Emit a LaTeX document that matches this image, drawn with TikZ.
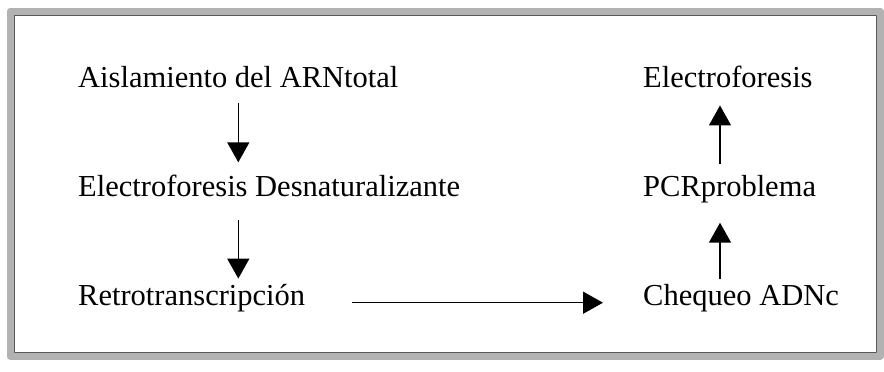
\documentclass[tikz,border=0pt]{standalone}
\usepackage{fontspec}
\setmainfont{Liberation Serif}
\usetikzlibrary{arrows.meta}
\begin{document}
\begin{tikzpicture}[x=1pt, y=-1pt, >={Triangle[width=22pt,length=20pt]},
	font=\fontsize{30.5}{36}\selectfont, line join=round,
	paso/.style={anchor=base west, inner sep=0pt},
	flecha/.style={->, line width=1.5pt}]
	\useasboundingbox (0,0) rectangle (884,372);
	% marco
	\draw[gray!60, line width=7pt] (10,11) rectangle (880,356);
	\draw[black!65, line width=0.8pt] (14,15) rectangle (876,352);
	% columna izquierda
	\node[paso] (ais) at (78,87) {Aislamiento del ARNtotal};
	\node[paso] (eds) at (78,196) {Electroforesis Desnaturalizante};
	\node[paso] (ret) at (78,305) {Retrotranscripción};
	% columna derecha
	\coordinate (colR) at (720,0);
	\node[paso] (elf) at (643,87) {Electroforesis};
	\node[paso] (pcr) at (643,196) {PCRproblema};
	\node[paso] (chq) at (643,305) {Chequeo ADNc};
	% flechas
	\draw[flecha, shorten <=16pt, shorten >=12pt] (ais.south) -- (ais.south |- eds.north);
	\draw[flecha, shorten <=24pt, shorten >=5pt] (ais.south |- eds.south) -- (ais.south |- ret.north);
	\draw[flecha, shorten <=47pt, shorten >=40pt] (ret.mid east) -- (ret.mid east -| chq.west);
	\draw[flecha, shorten <=5pt, shorten >=20pt] (colR |- chq.north) -- (colR |- pcr.south);
	\draw[flecha, shorten <=11pt, shorten >=18pt] (colR |- pcr.north) -- (colR |- elf.south);
\end{tikzpicture}
\end{document}
